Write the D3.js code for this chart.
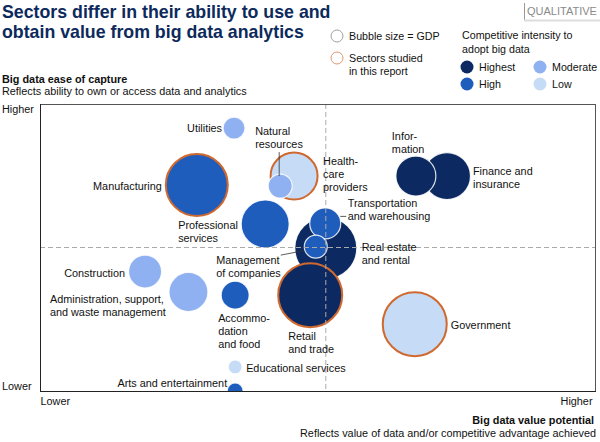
<!DOCTYPE html>
<html>
<head>
<meta charset="utf-8">
<script src="https://cdn.jsdelivr.net/npm/d3@7"></script>
<style>
  html, body { margin: 0; padding: 0; background: #fff; }
  svg { display: block; font-family: "Liberation Sans", Arial, sans-serif; }
</style>
</head>
<body>
<svg id="chart" width="600" height="442"></svg>
<script>
// ---------------- DATA ----------------
const sectors = ["Utilities", "Health-care providers", "Natural resources", "Manufacturing",
  "Professional services", "Finance and insurance", "Information", "Real estate and rental",
  "Transportation and warehousing", "Management of companies", "Retail and trade", "Government",
  "Construction", "Administration, support, and waste management", "Accommodation and food",
  "Educational services", "Arts and entertainment"];
// x: big data value potential (0 = lower, 100 = higher)
const valuePotential = [34.9, 45.7, 43.2, 28.2, 40.5, 73.2, 67.6, 51.4, 51.3, 49.6, 48.6, 67.4, 18.9, 26.7, 35.1, 35.1, 35.1];
// y: big data ease of capture (0 = lower, 100 = higher)
const easeOfCapture = [91.6, 74.9, 71.4, 71.8, 58.2, 74.9, 74.9, 49.8, 58.4, 50.3, 33.4, 23.3, 41.6, 34.5, 33.4, 8.4, 0];
// bubble size = GDP (relative)
const gdp = [11.8, 53.9, 14.1, 93.8, 56.3, 53.9, 39.1, 93.8, 23.5, 12.9, 100, 100, 26.6, 37.1, 19.1, 4.8, 6.25];
const intensity = ["Moderate", "Low", "Moderate", "High", "High", "Highest", "Highest", "Highest",
  "High", "High", "Highest", "Low", "Moderate", "Moderate", "High", "Low", "High"];
const studied = [false, true, false, true, false, false, false, false, false, false, true, true,
  false, false, false, false, false];
const labelLines = [["Utilities"], ["Health-", "care", "providers"], ["Natural", "resources"], ["Manufacturing"],
  ["Professional", "services"], ["Finance and", "insurance"], ["Infor-", "mation"], ["Real estate", "and rental"],
  ["Transportation", "and warehousing"], ["Management", "of companies"], ["Retail", "and trade"], ["Government"],
  ["Construction"], ["Administration, support,", "and waste management"], ["Accommo-", "dation", "and food"],
  ["Educational services"], ["Arts and entertainment"]];
const intensityLevels = ["Highest", "High", "Moderate", "Low"];
const xTickLabels = ["Lower", "Higher"];
const yTickLabels = ["Lower", "Higher"];

// ---------------- LAYOUT (label placement relative to bubble centre, px) ----------------
const labelLayout = [
  {dx: -12, dy: 4, anchor: "end"},
  {dx: 29, dy: -11, anchor: "start"},
  {dx: -25, dy: -51, anchor: "start", leader: [[-1, -34], [-1, -10]]},
  {dx: -35, dy: 5, anchor: "end"},
  {dx: -87, dy: 5, anchor: "start"},
  {dx: 26, dy: -1, anchor: "start"},
  {dx: -24, dy: -36, anchor: "start"},
  {dx: 36, dy: 3, anchor: "start"},
  {dx: 22.5, dy: -16.5, anchor: "start", leader: [[15, -7], [21, -7]]},
  {dx: -99.5, dy: 17.5, anchor: "start", leader: [[-35, 8.5], [-12, 4]]},
  {dx: -22, dy: 45, anchor: "start"},
  {dx: 36, dy: 5, anchor: "start"},
  {dx: -20, dy: 5.5, anchor: "end"},
  {dx: -138.5, dy: 11, anchor: "start"},
  {dx: -17, dy: 27, anchor: "start"},
  {dx: 11, dy: 5, anchor: "start"},
  {dx: -8, dy: -4, anchor: "end"}
];
const lineH = 13;
const fs = 10.85;

const colors = {Highest: "#0c2a61", High: "#1f5dbd", Moderate: "#8fb0f1", Low: "#c6dbf5"};
const studiedStroke = "#d0692f";

// ---------------- CHART ----------------
const svg = d3.select("#chart");
const plot = {left: 40, right: 596, top: 104, bottom: 391};

const x = d3.scaleLinear().domain([0, 100]).range([plot.left, plot.right]);
const y = d3.scaleLinear().domain([0, 100]).range([plot.bottom, plot.top]);
const r = d3.scaleSqrt().domain([0, 100]).range([0, 32]);

const data = sectors.map((s, i) => ({
  name: s, x: valuePotential[i], y: easeOfCapture[i], gdp: gdp[i],
  intensity: intensity[i], studied: studied[i], lines: labelLines[i], layout: labelLayout[i]
}));

// Title
svg.append("text").attr("x", 2).attr("y", 18)
  .attr("font-size", 17.75).attr("font-weight", "bold").attr("fill", "#0d2a5c")
  .selectAll("tspan").data(["Sectors differ in their ability to use and", "obtain value from big data analytics"])
  .join("tspan").attr("x", 2).attr("dy", (d, i) => i ? 19.5 : 0).text(d => d);

// QUALITATIVE tag
svg.append("line").attr("x1", 524.5).attr("x2", 524.5).attr("y1", 3).attr("y2", 20).attr("stroke", "#999");
svg.append("line").attr("x1", 524).attr("x2", 600).attr("y1", 20.5).attr("y2", 20.5).attr("stroke", "#ddd").attr("stroke-width", 2);
svg.append("text").attr("x", 527).attr("y", 15).attr("font-size", 11).attr("fill", "#8a8a8a").text("QUALITATIVE");

// Legend: bubble size / studied
const lg = svg.append("g").attr("font-size", 10.7).attr("fill", "#111");
lg.append("circle").attr("cx", 337).attr("cy", 36).attr("r", 6).attr("fill", "#fff").attr("stroke", "#a0a0a0");
lg.append("text").attr("x", 349).attr("y", 40).text("Bubble size = GDP");
lg.append("circle").attr("cx", 337).attr("cy", 58).attr("r", 6).attr("fill", "#fff").attr("stroke", "#dd9a72");
lg.append("text").attr("x", 349).attr("y", 62).text("Sectors studied");
lg.append("text").attr("x", 349).attr("y", 75).text("in this report");

// Legend: competitive intensity
lg.append("text").attr("x", 462).attr("y", 39).text("Competitive intensity to");
lg.append("text").attr("x", 462).attr("y", 53).text("adopt big data");
const legItems = lg.selectAll("g.li").data(intensityLevels).join("g").attr("class", "li")
  .attr("transform", (d, i) => `translate(${i < 2 ? 467 : 540},${i % 2 ? 84 : 67})`);
legItems.append("circle").attr("r", 6.5).attr("fill", d => colors[d]);
legItems.append("text").attr("x", 12).attr("y", 4).text(d => d);

// Y axis title
svg.append("text").attr("x", 2).attr("y", 83).attr("font-size", fs).attr("font-weight", "bold").attr("fill", "#111").text("Big data ease of capture");
svg.append("text").attr("x", 2).attr("y", 95).attr("font-size", fs).attr("fill", "#111").text("Reflects ability to own or access data and analytics");

// X axis title
svg.append("text").attr("x", 594).attr("y", 424).attr("text-anchor", "end").attr("font-size", fs).attr("font-weight", "bold").attr("fill", "#111").text("Big data value potential");
svg.append("text").attr("x", 596).attr("y", 437).attr("text-anchor", "end").attr("font-size", fs).attr("fill", "#111").text("Reflects value of data and/or competitive advantage achieved");

// Clip
svg.append("clipPath").attr("id", "plotclip").append("rect")
  .attr("x", plot.left).attr("y", plot.top).attr("width", plot.right - plot.left).attr("height", plot.bottom - plot.top);

// Bubbles
const bub = svg.append("g").attr("clip-path", "url(#plotclip)");
bub.selectAll("circle").data(data).join("circle")
  .attr("cx", d => x(d.x)).attr("cy", d => y(d.y)).attr("r", d => r(d.gdp))
  .attr("fill", d => colors[d.intensity])
  .attr("stroke", d => d.studied ? studiedStroke : "#ffffff")
  .attr("stroke-opacity", d => d.studied ? 1 : 0.85)
  .attr("stroke-width", d => d.studied ? 2 : 1.2);

// Quadrant dashed lines (on top)
svg.append("line").attr("x1", x(51.4)).attr("x2", x(51.4)).attr("y1", plot.top).attr("y2", plot.bottom)
  .attr("stroke", "#aaa").attr("stroke-dasharray", "5,3");
svg.append("line").attr("x1", plot.left).attr("x2", plot.right).attr("y1", y(50)).attr("y2", y(50))
  .attr("stroke", "#aaa").attr("stroke-dasharray", "5,3");

// Frame
svg.append("rect").attr("x", plot.left + 0.5).attr("y", plot.top + 0.5)
  .attr("width", plot.right - plot.left - 1).attr("height", plot.bottom - plot.top)
  .attr("fill", "none").attr("stroke", "#555");
svg.append("line").attr("x1", plot.left).attr("x2", plot.right).attr("y1", plot.bottom + 0.5).attr("y2", plot.bottom + 0.5).attr("stroke", "#222");
svg.append("line").attr("x1", plot.left + 0.5).attr("x2", plot.left + 0.5).attr("y1", plot.top).attr("y2", plot.bottom).attr("stroke", "#222");

// Axes (end labels only)
const xAxis = svg.append("g").attr("transform", `translate(0,${plot.bottom})`)
  .call(d3.axisBottom(x).tickValues([0, 100]).tickSize(0).tickPadding(6).tickFormat((d, i) => xTickLabels[i]));
xAxis.select(".domain").remove();
xAxis.selectAll("text").attr("font-size", fs).attr("fill", "#111").attr("font-family", "Liberation Sans, Arial, sans-serif")
  .attr("text-anchor", (d, i) => i ? "end" : "start").attr("dx", (d, i) => i ? -4 : 0);

const yAxis = svg.append("g").attr("transform", `translate(2,0)`)
  .call(d3.axisLeft(y).tickValues([0, 100]).tickSize(0).tickPadding(0).tickFormat((d, i) => yTickLabels[i]));
yAxis.select(".domain").remove();
yAxis.selectAll("text").attr("font-size", fs).attr("fill", "#111").attr("font-family", "Liberation Sans, Arial, sans-serif")
  .attr("text-anchor", "start").attr("dy", (d, i) => i ? "0.75em" : "-0.1em");

// Leader lines
const lab = svg.append("g").attr("font-size", fs).attr("fill", "#111");
data.filter(d => d.layout.leader).forEach(d => {
  const cx = x(d.x), cy = y(d.y), L = d.layout.leader;
  lab.append("line").attr("x1", cx + L[0][0]).attr("y1", cy + L[0][1]).attr("x2", cx + L[1][0]).attr("y2", cy + L[1][1])
    .attr("stroke", "#333").attr("stroke-width", 0.8);
});

// Labels
lab.selectAll("text.lbl").data(data).join("text").attr("class", "lbl")
  .attr("text-anchor", d => d.layout.anchor)
  .each(function(d) {
    const cx = x(d.x), cy = y(d.y);
    d3.select(this).selectAll("tspan").data(d.lines).join("tspan")
      .attr("x", cx + d.layout.dx).attr("y", (t, i) => cy + d.layout.dy + i * lineH).text(t => t);
  });
</script>
</body>
</html>
